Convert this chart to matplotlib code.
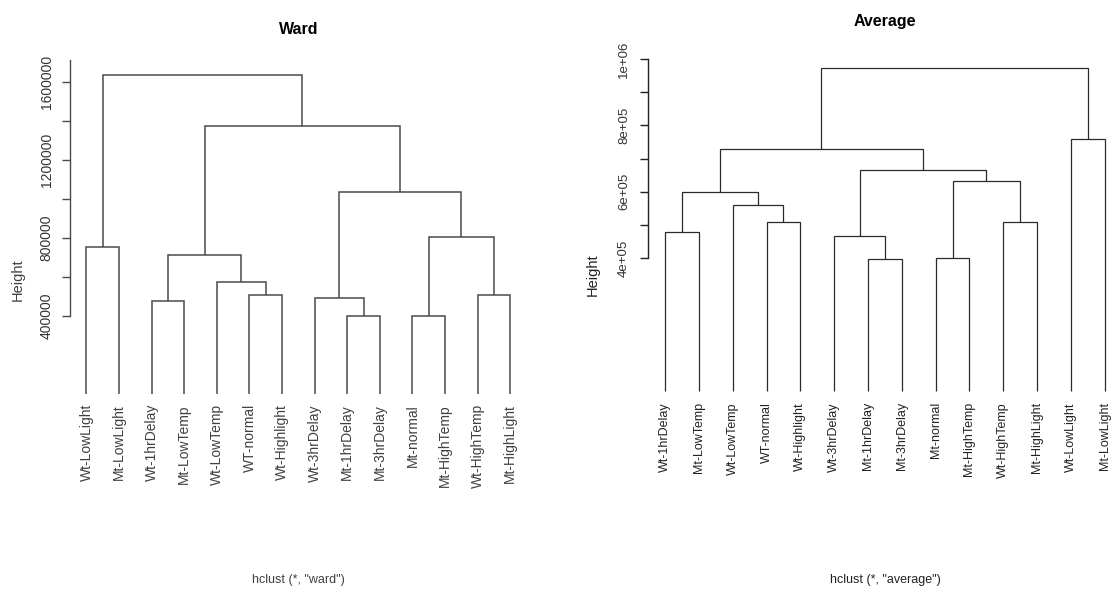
import matplotlib
matplotlib.use("Agg")
import matplotlib.pyplot as plt

plt.rcParams["font.family"] = ["Liberation Sans", "DejaVu Sans"]

W_PX, H_PX = 1111, 589

# Ward clustering: leaf order, merges (negative = leaf position, positive = earlier merge row)
ward_labels = ["Wt-LowLight", "Mt-LowLight", "Wt-1hrDelay", "Mt-LowTemp", "Wt-LowTemp",
               "WT-normal", "Wt-Highlight", "Wt-3hrDelay", "Mt-1hrDelay", "Mt-3hrDelay",
               "Mt-normal", "Mt-HighTemp", "Wt-HighTemp", "Mt-HighLight"]
ward_left = [-1, -3, -6, -5, 2, -9, -8, -11, -13, 8, 7, 5, 1]
ward_right = [-2, -4, -7, 3, 4, -10, 6, -12, -14, 9, 10, 11, 12]
ward_height = [755000, 478000, 510000, 575000, 712000, 400000, 491000,
               400000, 510000, 807000, 1037000, 1374000, 1637000]
ward_ticks = [400000, 600000, 800000, 1000000, 1200000, 1400000, 1600000]
ward_ticklabels = ["400000", "", "800000", "", "1200000", "", "1600000"]

# Average linkage
avg_labels = ["Wt-1hrDelay", "Mt-LowTemp", "Wt-LowTemp", "WT-normal", "Wt-Highlight",
              "Wt-3hrDelay", "Mt-1hrDelay", "Mt-3hrDelay", "Mt-normal", "Mt-HighTemp",
              "Wt-HighTemp", "Mt-HighLight", "Wt-LowLight", "Mt-LowLight"]
avg_left = [-1, -4, -3, 1, -7, -6, -9, -11, 7, 6, 4, -13, 11]
avg_right = [-2, -5, 2, 3, -8, 5, -10, -12, 8, 9, 10, -14, 12]
avg_height = [480000, 510000, 560000, 599000, 399000, 467000, 402000,
              510000, 634000, 667000, 728000, 759000, 972000]
avg_ticks = [400000, 500000, 600000, 700000, 800000, 900000, 1000000]
avg_ticklabels = ["4e+05", "", "6e+05", "", "8e+05", "", "1e+06"]


def px_axes(fig, left, top, right, bottom):
    return fig.add_axes([left / W_PX, 1 - bottom / H_PX,
                         (right - left) / W_PX, (bottom - top) / H_PX])


def draw_dendrogram(ax, left, right, height, color, lw):
    """Draw the U-shaped links; leaves hang down to 0."""
    pos = {}
    for i, (a, b, h) in enumerate(zip(left, right, height), start=1):
        pts = []
        for c in (a, b):
            if c < 0:
                pts.append((float(-c), 0.0))
            else:
                pts.append(pos[c])
        (xa, ya), (xb, yb) = pts
        ax.plot([xa, xa, xb, xb], [ya, h, h, yb], color=color, lw=lw,
                solid_capstyle="butt", solid_joinstyle="miter")
        pos[i] = ((xa + xb) / 2, h)


def style_axes(ax, n, ticks, ticklabels, ylim, spine_top, color, tick_len, pad, tick_fs):
    ax.set_xlim(0.48, n + 0.52)
    ax.set_ylim(*ylim)
    for s in ("top", "right", "bottom"):
        ax.spines[s].set_visible(False)
    ax.spines["left"].set_bounds(ticks[0], spine_top)
    ax.spines["left"].set_color(color)
    ax.spines["left"].set_linewidth(1.0)
    ax.set_xticks([])
    ax.set_yticks(ticks)
    ax.set_yticklabels(ticklabels, rotation=90, va="center", fontsize=tick_fs, color="#333333")
    ax.tick_params(axis="y", length=tick_len, width=1.0, color=color, pad=pad)
    ax.patch.set_visible(False)


def leaf_labels(ax, labels, offset_px, fs, color):
    for i, lab in enumerate(labels, start=1):
        ax.annotate(lab, xy=(i, 0), xytext=(0, -offset_px * 0.72), textcoords="offset points",
                    rotation=90, ha="center", va="top", fontsize=fs, color=color,
                    annotation_clip=False)


fig = plt.figure(figsize=(W_PX / 100, H_PX / 100), dpi=100)

# ---- Ward ----
ax1 = px_axes(fig, 69.5, 62.0, 527.2, 406.8)
draw_dendrogram(ax1, ward_left, ward_right, ward_height, "#4a4a4a", 1.1)
style_axes(ax1, len(ward_labels), ward_ticks, ward_ticklabels,
           (-0.04 * max(ward_height), 1.04 * max(ward_height)), 1715000,
           "#4a4a4a", 5.5, 6.0, 10)
leaf_labels(ax1, ward_labels, 10, 10, "#404040")
ax1.set_title("Ward", fontsize=11.5, fontweight="bold", pad=20)
fig.text(17.5 / W_PX, 1 - 280 / H_PX, "Height", rotation=90, ha="center", va="center",
         fontsize=10.5, color="#404040")
fig.text(298 / W_PX, 1 - 580 / H_PX, 'hclust (*, "ward")', ha="center", va="center",
         fontsize=9, color="#404040")

# ---- Average ----
ax2 = px_axes(fig, 647.5, 55.4, 1122.3, 404.0)
draw_dendrogram(ax2, avg_left, avg_right, avg_height, "#2a2a2a", 0.9)
style_axes(ax2, len(avg_labels), avg_ticks, avg_ticklabels,
           (-0.04 * max(avg_height), 1.04 * max(avg_height)), 1000000,
           "#222222", 5.8, 6.7, 9.5)
leaf_labels(ax2, avg_labels, 11, 9, "#222222")
ax2.set_title("Average", fontsize=11.5, fontweight="bold", pad=21)
fig.text(593 / W_PX, 1 - 275 / H_PX, "Height", rotation=90, ha="center", va="center",
         fontsize=10.5, color="#222222")
fig.text(885 / W_PX, 1 - 580 / H_PX, 'hclust (*, "average")', ha="center", va="center",
         fontsize=9, color="#222222")

fig.savefig("out.png", dpi=100)
